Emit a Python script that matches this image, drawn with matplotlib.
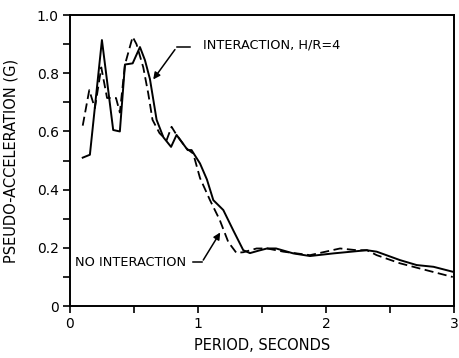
import matplotlib
matplotlib.use("Agg")
import matplotlib.pyplot as plt
from matplotlib.ticker import MultipleLocator

# Interaction, H/R = 4 (solid)
solid_period = [0.10, 0.156, 0.25, 0.338, 0.39, 0.43, 0.49, 0.547, 0.586, 0.625,
                0.677, 0.73, 0.79, 0.833, 0.92, 0.95, 1.016, 1.07, 1.12, 1.198,
                1.276, 1.354, 1.406, 1.47, 1.54, 1.61, 1.745, 1.875, 2.057, 2.318,
                2.396, 2.578, 2.708, 2.84, 2.99]
solid_accel = [0.51, 0.52, 0.914, 0.605, 0.60, 0.83, 0.834, 0.89, 0.845, 0.78,
               0.64, 0.58, 0.547, 0.588, 0.536, 0.536, 0.49, 0.435, 0.364, 0.33,
               0.26, 0.192, 0.182, 0.19, 0.198, 0.198, 0.181, 0.172, 0.181, 0.192,
               0.187, 0.158, 0.141, 0.135, 0.118]

# No interaction (dashed)
dashed_period = [0.10, 0.151, 0.195, 0.245, 0.29, 0.36, 0.39, 0.43, 0.49, 0.52,
                 0.573, 0.612, 0.645, 0.70, 0.755, 0.794, 0.833, 0.91, 0.963, 1.016,
                 1.094, 1.17, 1.237, 1.30, 1.354, 1.458, 1.54, 1.667, 1.875, 2.11,
                 2.24, 2.32, 2.396, 2.578, 2.734, 2.99]
dashed_accel = [0.62, 0.742, 0.68, 0.82, 0.715, 0.715, 0.665, 0.83, 0.925, 0.90,
                0.82, 0.73, 0.64, 0.594, 0.57, 0.616, 0.588, 0.542, 0.524, 0.44,
                0.364, 0.296, 0.22, 0.183, 0.185, 0.198, 0.198, 0.187, 0.175, 0.198,
                0.192, 0.192, 0.175, 0.147, 0.129, 0.10]

x_ticks = [0, 1, 2, 3]
y_ticks = [0, 0.2, 0.4, 0.6, 0.8, 1.0]
y_tick_labels = ["0", "0.2", "0.4", "0.6", "0.8", "1.0"]

fig = plt.figure(figsize=(4.6, 3.58), dpi=100)
ax = fig.add_axes([0.152, 0.145, 0.835, 0.813])

ax.plot(solid_period, solid_accel, color="black", linewidth=1.4)
ax.plot(dashed_period, dashed_accel, color="black", linewidth=1.3,
        dashes=[5, 2.5])

# Leader for the interaction curve
ax.plot([0.94, 0.833], [0.889, 0.889], color="black", linewidth=1.1)
ax.annotate("", xy=(0.638, 0.771), xytext=(0.833, 0.889),
            arrowprops={"arrowstyle": "-|>", "color": "black",
                        "linewidth": 1.1, "mutation_scale": 10})
ax.text(1.04, 0.897, "INTERACTION, H/R=4", fontsize=9.3,
        va="center", ha="left")

# Leader for the no-interaction curve
ax.plot([0.96, 1.03], [0.15, 0.15], color="black", linewidth=1.1)
ax.annotate("", xy=(1.185, 0.261), xytext=(1.03, 0.15),
            arrowprops={"arrowstyle": "-|>", "color": "black",
                        "linewidth": 1.1, "mutation_scale": 10})
ax.text(0.04, 0.15, "NO INTERACTION", fontsize=9.3, va="center", ha="left")

ax.set_xlim(0, 3)
ax.set_ylim(0, 1.0)
ax.set_xticks(x_ticks)
ax.set_xticklabels([str(t) for t in x_ticks])
ax.set_yticks(y_ticks)
ax.set_yticklabels(y_tick_labels)
ax.xaxis.set_minor_locator(MultipleLocator(0.5))
ax.yaxis.set_minor_locator(MultipleLocator(0.1))
ax.tick_params(which="both", direction="out", length=5, width=1.2,
               labelsize=10, pad=3)

for spine in ax.spines.values():
    spine.set_linewidth(1.4)

ax.set_xlabel("PERIOD, SECONDS", fontsize=10.5)
ax.set_ylabel("PSEUDO-ACCELERATION (G)", fontsize=10.5)
ax.yaxis.set_label_coords(-0.135, 0.5)
ax.xaxis.set_label_coords(0.5, -0.11)

fig.savefig("out.png", dpi=100)
